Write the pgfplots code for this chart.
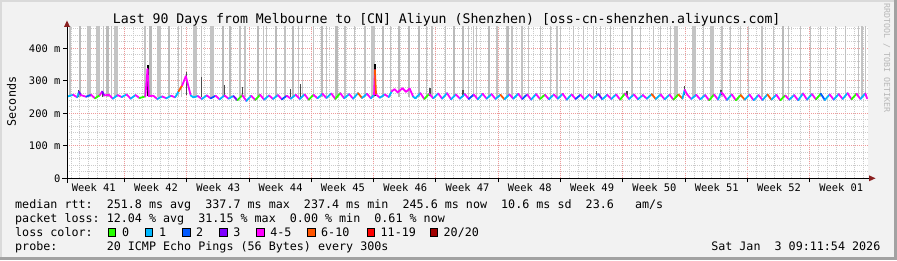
\documentclass[border=0pt]{standalone}
\usepackage{pgfplots}
\pgfplotsset{compat=1.18}
\usepackage{pgfplotstable}
\usepackage{fontspec}
\setmainfont{DejaVu Sans Mono}
\newfontfamily\mono{DejaVu Sans Mono}
\newcommand\axfont{\mono\fontsize{10.4}{12}\selectfont}
\newcommand\lgfont{\mono\fontsize{11.7}{14}\selectfont}
\newcommand\ttlfont{\mono\fontsize{13.2}{15}\selectfont}
\definecolor{bgc}{HTML}{F2F2F2}
\definecolor{hi}{HTML}{DADADA}
\definecolor{sh}{HTML}{A2A2A2}
\definecolor{arr}{HTML}{8A2020}
\definecolor{gridred}{HTML}{EE9A9A}
\definecolor{gridgray}{HTML}{CBCBCB}
\definecolor{lc0}{HTML}{26FF00}
\definecolor{lc1}{HTML}{00B8FF}
\definecolor{lc2}{HTML}{0059FF}
\definecolor{lc3}{HTML}{7E00FF}
\definecolor{lc4}{HTML}{FF00FF}
\definecolor{lc5}{HTML}{FF5500}
\definecolor{lc6}{HTML}{FF0000}
\definecolor{lc7}{HTML}{A00000}
\pgfplotsset{colormap={loss}{rgb255=(38,255,0) rgb255=(0,184,255) rgb255=(0,89,255) rgb255=(126,0,255) rgb255=(255,0,255) rgb255=(255,85,0) rgb255=(255,0,0) rgb255=(160,0,0)}}

\pgfplotstableread{
x y c
0.10 252 1
0.70 257 4
1.15 249 1
1.35 266 3
1.55 256 4
2.15 251 2
2.70 257 4
3.15 246 0
3.70 256 4
3.95 267 3
4.20 255 4
4.70 257 4
5.15 245 1
5.70 256 4
6.15 250 1
6.70 258 4
7.15 245 1
7.70 256 4
8.15 247 0
8.80 252 4
9.05 336 4
9.20 253 4
9.70 254 4
10.15 244 1
10.70 252 4
11.15 246 1
11.70 254 4
12.15 249 1
12.55 268 5
12.95 286 4
13.35 314 4
13.60 288 4
13.90 255 1
14.20 249 1
14.70 253 4
15.15 244 1
15.70 255 4
16.15 246 2
16.70 254 4
17.15 243 1
17.70 255 4
18.15 245 1
18.70 253 3
19.15 240 0
19.70 256 4
20.15 238 1
20.70 254 4
21.15 241 0
21.70 257 4
22.15 242 1
22.70 255 4
23.15 244 1
23.70 256 4
24.15 243 2
24.70 254 4
25.15 245 1
25.70 257 4
26.15 244 1
26.70 258 4
27.15 242 0
27.70 257 4
28.15 246 1
28.70 260 4
29.15 247 1
29.70 261 4
30.15 244 0
30.70 262 4
31.15 246 1
31.70 259 4
32.15 245 1
32.70 262 5
33.15 247 1
33.70 260 4
34.15 246 1
34.50 257 4
34.60 333 5
34.72 258 4
35.15 248 1
35.70 258 4
36.15 250 1
36.50 268 4
36.80 274 4
37.15 265 4
37.70 277 4
38.10 266 4
38.50 276 4
38.90 251 1
39.15 246 1
39.70 262 4
40.15 244 0
40.70 260 4
41.15 246 1
41.70 261 4
42.15 245 1
42.70 262 4
43.15 243 1
43.70 258 4
44.15 245 1
44.70 259 4
45.15 244 2
45.70 258 4
46.15 243 1
46.70 260 4
47.15 245 1
47.70 259 4
48.15 244 1
48.70 257 5
49.15 243 1
49.70 258 4
50.15 245 1
50.70 260 4
51.15 244 2
51.70 258 4
52.15 242 1
52.70 259 4
53.15 244 0
53.70 257 4
54.15 243 1
54.70 258 4
55.15 245 1
55.70 260 4
56.15 242 1
56.70 258 4
57.15 244 2
57.70 257 4
58.15 243 1
58.70 258 4
59.15 245 1
59.70 259 3
60.15 243 1
60.70 257 4
61.15 244 1
61.70 258 4
62.15 242 0
62.70 261 4
63.15 244 1
63.70 258 4
64.15 243 1
64.70 256 4
65.15 245 1
65.70 259 5
66.15 244 1
66.70 258 4
67.15 243 1
67.70 257 4
68.15 242 0
68.70 258 5
69.15 245 1
69.40 272 4
69.70 257 4
70.15 244 1
70.70 257 4
71.15 243 1
71.70 256 4
72.15 240 0
72.70 258 4
73.15 242 1
73.50 264 4
73.75 258 4
74.15 241 1
74.70 258 4
75.15 240 0
75.70 256 5
76.15 242 1
76.70 257 4
77.15 240 1
77.70 256 4
78.15 241 1
78.70 258 5
79.15 242 1
79.70 257 4
80.15 240 0
80.70 255 4
81.15 242 1
81.70 256 4
82.15 240 1
82.70 261 4
83.15 242 1
83.70 259 4
84.15 243 0
84.70 260 2
85.15 241 1
85.70 258 4
86.15 242 1
86.70 259 4
87.15 244 1
87.70 262 4
88.15 243 0
88.70 260 4
89.15 244 1
89.70 261 4
89.90 245.6 1
}\median

\begin{document}
\begin{tikzpicture}[x=1pt,y=1pt]
\useasboundingbox (0,0) rectangle (897,260);
\fill[bgc] (0,0) rectangle (897,260);
\draw[line width=2pt, hi] (1,0) -- (1,259) -- (897,259);
\draw[line width=3pt, sh] (0,1.5) -- (895.5,1.5) -- (895.5,260);

\begin{axis}[
  at={(67pt,81.7pt)}, anchor=south west,
  scale only axis, width=801pt, height=151.3pt,
  xmin=0, xmax=90, ymin=0, ymax=465.5,
  axis background/.style={fill=white},
  axis line style={draw=none},
  tick align=outside, tick pos=left,
  xtick={6.44,13.44,20.44,27.44,34.44,41.44,48.44,55.44,62.44,69.44,76.44,83.44},
  xticklabels={{},{},{},{},{},{},{},{},{},{},{},{}},
  minor xtick={0.44,1.44,...,89.44},
  ytick={0,100,200,300,400},
  yticklabels={0,100 m,200 m,300 m,400 m},
  minor ytick={20,40,...,460},
  grid=both,
  major grid style={draw=gridred, dash pattern=on 1pt off 1pt, line width=0.7pt},
  minor grid style={draw=gridgray, dash pattern=on 1pt off 1pt, line width=0.7pt},
  major tick length=4pt, minor tick length=0pt,
  tick style={black, line width=0.8pt},
  extra x ticks={3,10,17,24,31,38,45,52,59,66,73,80,87},
  extra x tick labels={Week 41,Week 42,Week 43,Week 44,Week 45,Week 46,Week 47,Week 48,Week 49,Week 50,Week 51,Week 52,Week 01},
  extra x tick style={grid=none, major tick length=0pt, xticklabel style={anchor=base, yshift=-13.4pt}},
  ticklabel style={font=\axfont},
  yticklabel style={anchor=east, inner sep=2.5pt},
  /pgf/number format/assume math mode=true,
  unbounded coords=jump,
]
% light smoke, narrow
\addplot[draw=black!24, line width=1.3pt] coordinates {
(0.34,250) (0.34,470) (0.34,nan) (4.08,250) (4.08,470) (4.08,nan)
(5.02,250) (5.02,470) (5.02,nan) (8.77,250) (8.77,470) (8.77,nan)
(12.51,250) (12.51,470) (12.51,nan) (12.89,250) (12.89,470) (12.89,nan)
(15.14,250) (15.14,470) (15.14,nan) (19.45,250) (19.45,470) (19.45,nan)
(20.01,250) (20.01,470) (20.01,nan) (22.07,250) (22.07,470) (22.07,nan)
(22.45,250) (22.45,470) (22.45,nan) (24.5,250) (24.5,470) (24.5,nan)
(26.0,250) (26.0,470) (26.0,nan) (26.45,250) (26.45,470) (26.45,nan)
(27.7,250) (27.7,470) (27.7,nan)
(29.19,250) (29.19,470) (29.19,nan) (31.24,250) (31.24,470) (31.24,nan)
(32.29,250) (32.29,470) (32.29,nan) (33.49,250) (33.49,470) (33.49,nan)
(36.31,250) (36.31,470) (36.31,nan) (40.43,250) (40.43,470) (40.43,nan)
(41.0,250) (41.0,470) (41.0,nan) (42.49,250) (42.49,470) (42.49,nan)
(45.11,250) (45.11,470) (45.11,nan) (45.67,250) (45.67,470) (45.67,nan)
(46.05,250) (46.05,470) (46.05,nan) (48.3,250) (48.3,470) (48.3,nan)
(49.43,250) (49.43,470) (49.43,nan)
(49.99,250) (49.99,470) (49.99,nan) (51.11,250) (51.11,470) (51.11,nan)
(51.86,250) (51.86,470) (51.86,nan) (53.17,250) (53.17,470) (53.17,nan)
(54.3,250) (54.3,470) (54.3,nan) (55.05,250) (55.05,470) (55.05,nan)
(55.42,250) (55.42,470) (55.42,nan) (56.91,250) (56.91,470) (56.91,nan)
(58.04,250) (58.04,470) (58.04,nan) (59.16,250) (59.16,470) (59.16,nan)
(59.91,250) (59.91,470) (59.91,nan) (61.04,250) (61.04,470) (61.04,nan)
(62.44,250) (62.44,470) (62.44,nan) (63.48,250) (63.48,470) (63.48,nan)
(64.41,250) (64.41,470) (64.41,nan) (65.91,250) (65.91,470) (65.91,nan)
(66.66,250) (66.66,470) (66.66,nan) (67.78,250) (67.78,470) (67.78,nan)
(71.53,250) (71.53,470) (71.53,nan) (73.6,250) (73.6,470) (73.6,nan)
(74.53,250) (74.53,470) (74.53,nan) (75.66,250) (75.66,470) (75.66,nan)
(76.59,250) (76.59,470) (76.59,nan) (78.09,250) (78.09,470) (78.09,nan)
(79.4,250) (79.4,470) (79.4,nan) (81.08,250) (81.08,470) (81.08,nan)
(82.4,250) (82.4,470) (82.4,nan) (83.52,250) (83.52,470) (83.52,nan)
(84.64,250) (84.64,470) (84.64,nan) (86.33,250) (86.33,470) (86.33,nan)
(87.45,250) (87.45,470) (87.45,nan) (88.95,250) (88.95,470) (88.95,nan)
(89.33,250) (89.33,470) (89.33,nan) (89.7,250) (89.7,470) (89.7,nan)
};
% light smoke, medium
\addplot[draw=black!27, line width=2.2pt] coordinates {
(1.46,250) (1.46,470) (1.46,nan) (4.55,250) (4.55,470) (4.55,nan)
(9.38,250) (9.38,470) (9.38,nan) (11.48,250) (11.48,470) (11.48,nan)
(17.57,250) (17.57,470) (17.57,nan) (18.32,250) (18.32,470) (18.32,nan)
(21.45,250) (21.45,470) (21.45,nan) (23.47,250) (23.47,470) (23.47,nan)
(25.4,250) (25.4,470) (25.4,nan) (28.62,250) (28.62,470) (28.62,nan)
(30.28,250) (30.28,470) (30.28,nan) (35.47,250) (35.47,470) (35.47,nan)
(37.33,250) (37.33,470) (37.33,nan) (38.46,250) (38.46,470) (38.46,nan)
(39.58,250) (39.58,470) (39.58,nan) (43.52,250) (43.52,470) (43.52,nan)
(44.46,250) (44.46,470) (44.46,nan) (47.45,250) (47.45,470) (47.45,nan)
(49.52,250) (49.52,470) (49.52,nan) (80.43,250) (80.43,470) (80.43,nan)
};
% light smoke, wide
\addplot[draw=black!23, line width=4pt] coordinates {
(2.5,250) (2.5,470) (2.5,nan) (3.52,250) (3.52,470) (3.52,nan)
(5.48,250) (5.48,470) (5.48,nan) (10.36,250) (10.36,470) (10.36,nan)
(14.39,250) (14.39,470) (14.39,nan) (16.3,250) (16.3,470) (16.3,nan)
(34.43,250) (34.43,470) (34.43,nan) (68.43,250) (68.43,470) (68.43,nan)
(70.4,250) (70.4,470) (70.4,nan) (72.46,250) (72.46,470) (72.46,nan)
};
% dark smoke
\addplot[draw=black!70, line width=1.5pt] coordinates {
(1.3,250) (1.3,271) (1.3,nan) (4.0,250) (4.0,270) (4.0,nan)
(13.4,255) (13.4,326) (13.4,nan) (15.1,250) (15.1,312) (15.1,nan)
(17.7,250) (17.7,288) (17.7,nan) (19.7,250) (19.7,281) (19.7,nan)
(25.1,250) (25.1,276) (25.1,nan) (26.25,250) (26.25,290) (26.25,nan)
(40.8,252) (40.8,278) (40.8,nan) (44.5,252) (44.5,272) (44.5,nan)
(59.5,250) (59.5,268) (59.5,nan) (62.9,250) (62.9,268) (62.9,nan)
(69.4,255) (69.4,284) (69.4,nan) (73.5,255) (73.5,272) (73.5,nan)
};
\addplot[draw=black, line width=2pt] coordinates {
(9.05,252) (9.05,350) (9.05,nan) (34.6,252) (34.6,352) (34.6,nan)
};
% median rtt coloured by loss
\addplot[mesh, shader=flat corner, colormap name=loss, colormap access=direct,
  point meta=\thisrow{c}, line width=1.8pt, line cap=round] table[x=x,y=y] {\median};
\end{axis}

% axis lines and arrows
\draw[line width=1pt] (67,77) -- (67,234);
\draw[line width=1pt] (62,81.7) -- (870,81.7);
\fill[arr] (64,233) -- (70,233) -- (67,239.5) -- cycle;
\fill[arr] (869,78.7) -- (869,84.7) -- (875.5,81.7) -- cycle;

% title and side text
\node[font=\ttlfont, anchor=base] at (446.7,236.2) {Last 90 Days from Melbourne to [CN] Aliyun (Shenzhen) [oss-cn-shenzhen.aliyuncs.com]};
\node[font=\mono\fontsize{8.3}{10}\selectfont, text=black!28, rotate=-90] at (886.7,202) {RRDTOOL / TOBI OETIKER};
\node[font=\lgfont, rotate=90] at (11.5,158.5) {Seconds};

% legend
\node[font=\lgfont, anchor=base west, inner sep=0pt] at (15,52) {median~rtt:~~251.8~ms~avg~~337.7~ms~max~~237.4~ms~min~~245.6~ms~now~~10.6~ms~sd~~23.6~~~am/s};
\node[font=\lgfont, anchor=base west, inner sep=0pt] at (15,37.7) {packet~loss:~12.04~\%~avg~~31.15~\%~max~~0.00~\%~min~~0.61~\%~now};
\node[font=\lgfont, anchor=base west, inner sep=0pt] at (15,23.7) {loss~color:};
\node[font=\lgfont, anchor=base west, inner sep=0pt] at (15,9.7) {probe:~~~~~~~20~ICMP~Echo~Pings~(56~Bytes)~every~300s};
\node[font=\lgfont, anchor=base east, inner sep=0pt] at (880.5,9.7) {Sat~Jan~~3~09:11:54~2026};
\foreach \bx/\c/\t in {108.3/lc0/0,145.4/lc1/1,182.5/lc2/2,219.6/lc3/3,256.7/lc4/4-5,307.5/lc5/6-10,367/lc6/11-19}{
  \filldraw[fill=\c, draw=black, line width=0.8pt] (\bx,24) rectangle ++(7.4,7.4);
  \node[font=\lgfont, anchor=base west, inner sep=0pt] at (\bx+13.5,23.7) {\t};
}
\filldraw[fill=lc7, draw=black, line width=0.8pt] (430,24) rectangle ++(7.4,7.4);
\node[font=\lgfont, anchor=base west, inner sep=0pt] at (443.5,23.7) {20/20};
\end{tikzpicture}
\end{document}
